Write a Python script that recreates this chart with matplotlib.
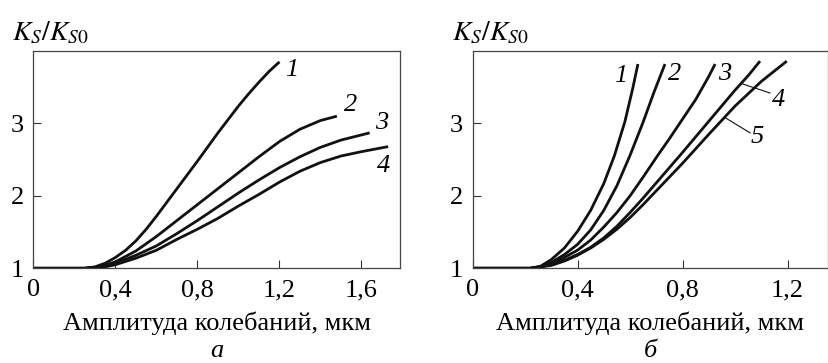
import matplotlib.pyplot as plt

plt.rcParams['font.family'] = ['Liberation Serif', 'DejaVu Serif']
plt.rcParams['mathtext.fontset'] = 'stix'

# панель а: амплитуда (мкм) -> K_S/K_S0
a_x1 = [0, 0.25, 0.30, 0.35, 0.40, 0.45, 0.50, 0.55, 0.60, 0.70, 0.80, 0.90, 1.00, 1.05, 1.10, 1.15, 1.20]
a_y1 = [1, 1.00, 1.02, 1.07, 1.15, 1.25, 1.38, 1.54, 1.72, 2.10, 2.48, 2.87, 3.24, 3.41, 3.57, 3.72, 3.85]
a_x2 = [0, 0.25, 0.30, 0.35, 0.40, 0.50, 0.60, 0.70, 0.80, 0.90, 1.00, 1.10, 1.20, 1.30, 1.40, 1.48]
a_y2 = [1, 1.00, 1.01, 1.04, 1.09, 1.24, 1.44, 1.66, 1.88, 2.10, 2.32, 2.54, 2.75, 2.92, 3.04, 3.10]
a_x3 = [0, 0.25, 0.30, 0.35, 0.40, 0.50, 0.60, 0.70, 0.80, 0.90, 1.00, 1.10, 1.20, 1.30, 1.40, 1.50, 1.64]
a_y3 = [1, 1.00, 1.01, 1.03, 1.07, 1.18, 1.31, 1.48, 1.66, 1.85, 2.04, 2.22, 2.39, 2.54, 2.67, 2.77, 2.87]
a_x4 = [0, 0.25, 0.30, 0.35, 0.40, 0.50, 0.60, 0.70, 0.80, 0.90, 1.00, 1.10, 1.20, 1.30, 1.40, 1.50, 1.60, 1.73]
a_y4 = [1, 1.00, 1.01, 1.02, 1.05, 1.14, 1.25, 1.40, 1.54, 1.69, 1.86, 2.02, 2.19, 2.34, 2.46, 2.55, 2.61, 2.68]

# панель б
b_x1 = [0, 0.22, 0.26, 0.30, 0.35, 0.40, 0.45, 0.50, 0.54, 0.58, 0.61, 0.63]
b_y1 = [1, 1.00, 1.03, 1.12, 1.28, 1.51, 1.80, 2.17, 2.55, 3.02, 3.48, 3.82]
b_x2 = [0, 0.22, 0.26, 0.30, 0.35, 0.40, 0.45, 0.50, 0.55, 0.60, 0.65, 0.69, 0.733]
b_y2 = [1, 1.00, 1.02, 1.08, 1.19, 1.33, 1.53, 1.80, 2.14, 2.56, 3.02, 3.42, 3.82]
b_x3 = [0, 0.22, 0.26, 0.30, 0.35, 0.40, 0.45, 0.50, 0.55, 0.60, 0.65, 0.70, 0.75, 0.80, 0.85, 0.90, 0.924]
b_y3 = [1, 1.00, 1.02, 1.06, 1.15, 1.25, 1.39, 1.57, 1.77, 2.00, 2.26, 2.53, 2.79, 3.06, 3.33, 3.65, 3.82]
b_x4 = [0, 0.22, 0.26, 0.30, 0.35, 0.40, 0.45, 0.50, 0.55, 0.60, 0.65, 0.70, 0.80, 0.90, 1.00, 1.05, 1.095]
b_y4 = [1, 1.00, 1.02, 1.05, 1.11, 1.19, 1.29, 1.42, 1.58, 1.77, 1.97, 2.18, 2.60, 3.03, 3.46, 3.66, 3.86]
b_x5 = [0, 0.22, 0.26, 0.30, 0.35, 0.40, 0.45, 0.50, 0.55, 0.60, 0.65, 0.70, 0.80, 0.90, 1.00, 1.10, 1.197]
b_y5 = [1, 1.00, 1.02, 1.04, 1.10, 1.18, 1.28, 1.40, 1.54, 1.70, 1.88, 2.07, 2.45, 2.85, 3.24, 3.58, 3.86]

a_curves = [(a_x1, a_y1), (a_x2, a_y2), (a_x3, a_y3), (a_x4, a_y4)]
b_curves = [(b_x1, b_y1), (b_x2, b_y2), (b_x3, b_y3), (b_x4, b_y4), (b_x5, b_y5)]

a_labels = ['1', '2', '3', '4']
a_label_pos = [(1.26, 3.74), (1.545, 3.26), (1.70, 3.01), (1.707, 2.41)]
b_labels = ['1', '2', '3', '4', '5']
b_label_pos = [(0.563, 3.65), (0.771, 3.68), (0.962, 3.68), (1.165, 3.33), (1.083, 2.81)]
# выноски для кривых 4 и 5 на панели б
b_leaders = [((1.025, 3.55), (1.133, 3.42)), ((0.962, 3.08), (1.057, 2.87))]

xlabel = 'Амплитуда колебаний, мкм'
ylabel = r'$K_S/K_{S0}$'
fs = 19

fig = plt.figure(figsize=(8.29, 3.63), dpi=100)
ax_a = fig.add_axes([0.0404, 0.2609, 0.4421, 0.5986])
ax_b = fig.add_axes([0.570, 0.2609, 0.4288, 0.5986])


def setup(ax, xmax, xticks, xticklabels, letter):
    ax.set_xlim(0, xmax)
    ax.set_ylim(1, 4.0)
    ax.set_xticks(xticks)
    ax.set_xticklabels(xticklabels)
    ax.set_yticks([1, 2, 3])
    ax.set_yticklabels(['1', '2', '3'])
    ax.tick_params(direction='in', length=6, width=0.8, labelsize=fs, color='#333333')
    ax.tick_params(axis='x', pad=8)
    ax.tick_params(axis='y', pad=7)
    for s in ax.spines.values():
        s.set_linewidth(0.9)
        s.set_color('#444444')
    ax.text(0.5, -0.255, xlabel, transform=ax.transAxes, fontsize=fs,
            ha='center', va='center')
    ax.text(-0.058, 1.05, ylabel, transform=ax.transAxes, fontsize=fs + 1,
            ha='left', va='baseline')
    ax.text(0.5, -0.38, letter, transform=ax.transAxes, fontsize=fs,
            style='italic', ha='center', va='center')


for x, y in a_curves:
    ax_a.plot(x, y, color='#111111', lw=2.0, solid_capstyle='butt', solid_joinstyle='round')
for t, (px, py) in zip(a_labels, a_label_pos):
    ax_a.text(px, py, t, fontsize=fs, style='italic', ha='center', va='center')
setup(ax_a, 1.788, [0, 0.4, 0.8, 1.2, 1.6], ['0', '0,4', '0,8', '1,2', '1,6'], 'а')

for x, y in b_curves:
    ax_b.plot(x, y, color='#111111', lw=2.0, solid_capstyle='butt', solid_joinstyle='round')
for t, (px, py) in zip(b_labels, b_label_pos):
    ax_b.text(px, py, t, fontsize=fs, style='italic', ha='center', va='center')
for (x0, y0), (x1, y1) in b_leaders:
    ax_b.plot([x0, x1], [y0, y1], color='#111111', lw=0.8)
setup(ax_b, 1.354, [0, 0.4, 0.8, 1.2], ['0', '0,4', '0,8', '1,2'], 'б')

fig.savefig('out.png', dpi=100)
